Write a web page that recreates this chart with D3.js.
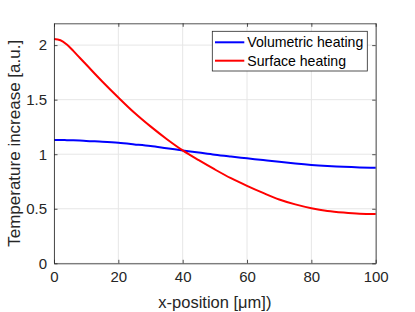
<!DOCTYPE html>
<html><head><meta charset="utf-8">
<script src="https://cdn.jsdelivr.net/npm/d3@7"></script>
<style>
body{margin:0;background:#fff;}
svg{display:block;font-family:"Liberation Sans",Arial,sans-serif;}
</style></head>
<body><svg id="c" width="415" height="312"></svg>
<script>
const xPos = [0,2,4,6,8,10,15,20,25,30,35,40,45,50,55,60,65,70,75,80,85,90,95,100];
const volumetric = [1.13,1.13,1.129,1.128,1.126,1.122,1.114,1.104,1.09,1.075,1.055,1.035,1.015,0.995,0.978,0.962,0.946,0.93,0.915,0.902,0.892,0.884,0.879,0.877];
const surface = [2.055,2.045,2.005,1.947,1.884,1.822,1.667,1.52,1.38,1.255,1.14,1.035,0.945,0.86,0.78,0.71,0.645,0.585,0.54,0.505,0.48,0.465,0.455,0.452];
const xTicks = [0,20,40,60,80,100];
const yTicks = [0,0.5,1,1.5,2];
const seriesNames = ["Volumetric heating","Surface heating"];
const seriesColors = ["#0000ff","#ff0000"];

const svg = d3.select("#c");
const L=54, R=375.7, T=23.3, B=263.3;
const x = d3.scaleLinear().domain([0,100]).range([L,R]);
const y = d3.scaleLinear().domain([0,2.2]).range([B,T]);

// grid
const g = svg.append("g");
g.selectAll(".gx").data(xTicks).enter().append("line")
 .attr("x1",d=>x(d)).attr("x2",d=>x(d)).attr("y1",T).attr("y2",B)
 .attr("stroke","#e6e6e6").attr("stroke-width",1);
g.selectAll(".gy").data(yTicks).enter().append("line")
 .attr("y1",d=>y(d)).attr("y2",d=>y(d)).attr("x1",L).attr("x2",R)
 .attr("stroke","#e6e6e6").attr("stroke-width",1);

// lines
const line = d3.line().x((d,i)=>x(xPos[i])).y(d=>y(d)).curve(d3.curveMonotoneX);
[volumetric,surface].forEach((s,k)=>{
  svg.append("path").datum(s).attr("d",line).attr("fill","none")
   .attr("stroke",seriesColors[k]).attr("stroke-width",2);
});

// axes
const ax = (a)=>a.tickSizeOuter(0);
svg.append("g").attr("transform",`translate(0,${B})`)
 .call(ax(d3.axisBottom(x).tickValues(xTicks).tickSize(-3.5).tickPadding(8).tickFormat(d3.format("d"))));
svg.append("g").attr("transform",`translate(0,${T})`)
 .call(ax(d3.axisTop(x).tickValues(xTicks).tickSize(-3.5).tickFormat("")));
svg.append("g").attr("transform",`translate(${L},0)`)
 .call(ax(d3.axisLeft(y).tickValues(yTicks).tickSize(-3.5).tickPadding(7).tickFormat(d=>String(d))));
svg.append("g").attr("transform",`translate(${R},0)`)
 .call(ax(d3.axisRight(y).tickValues(yTicks).tickSize(-3.5).tickFormat("")));
svg.selectAll(".domain").attr("stroke","#262626").attr("stroke-width",0.8);
svg.selectAll(".tick line").attr("stroke","#262626").attr("stroke-width",0.8);
svg.selectAll(".tick text").attr("fill","#262626").style("font-size","15px").style("font-family","Liberation Sans, Arial, sans-serif");

// labels
svg.append("text").attr("x",(L+R)/2).attr("y",308).attr("text-anchor","middle")
 .style("font-size","16.5px").attr("fill","#262626").text("x-position [μm])");
svg.append("text").attr("transform",`translate(20,${(T+B)/2}) rotate(-90)`).attr("text-anchor","middle")
 .style("font-size","17px").attr("fill","#262626").text("Temperature increase [a.u.]");

// legend
const lg = svg.append("g");
lg.append("rect").attr("x",212.3).attr("y",31.3).attr("width",155).attr("height",39.7)
 .attr("fill","#fff").attr("stroke","#262626").attr("stroke-width",0.8);
seriesNames.forEach((n,k)=>{
  const yy = 42.3 + k*18.4;
  lg.append("line").attr("x1",215).attr("x2",244.3).attr("y1",yy).attr("y2",yy)
   .attr("stroke",seriesColors[k]).attr("stroke-width",2);
  lg.append("text").attr("x",247.3).attr("y",yy+5).style("font-size","14.1px").attr("fill","#000").text(n);
});
</script></body></html>
